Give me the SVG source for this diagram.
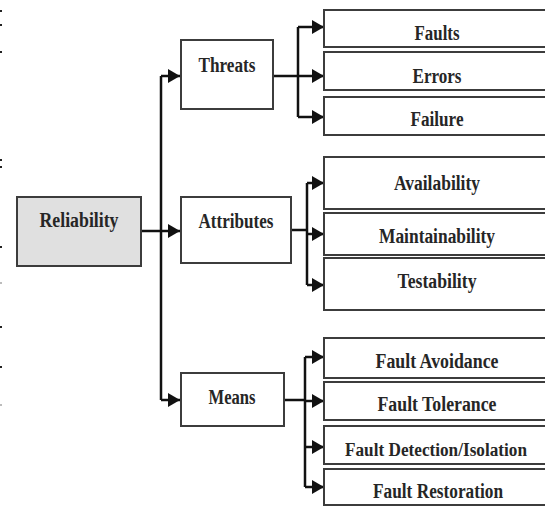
<svg xmlns="http://www.w3.org/2000/svg" width="545" height="507" viewBox="0 0 545 507">
  <style>
    .box { fill: #ffffff; stroke: #3c3c3c; stroke-width: 2; }
    .root { fill: #e0e0e0; stroke: #3c3c3c; stroke-width: 2; }
    .lbl { font-family: "Liberation Serif", "Times New Roman", serif; font-weight: bold; font-size: 20px; fill: #262626; text-anchor: middle; }
    .small { font-size: 18px; }
    .wire { fill: none; stroke: #111111; stroke-width: 2.5; }
    .tick { fill: #222222; }
  </style>
  <defs>
    <marker id="arrow" viewBox="0 0 12 14" refX="12" refY="7" markerWidth="12" markerHeight="14" markerUnits="userSpaceOnUse" orient="auto">
      <path d="M0,0 L12,7 L0,14 Z" fill="#111111"/>
    </marker>
  </defs>

  <rect width="545" height="507" fill="#ffffff"/>

  <!-- small marks along the left edge -->
  <g id="edge-marks">
    <rect class="tick" x="0" y="10" width="2" height="2"/>
    <rect class="tick" x="0" y="24" width="2" height="2"/>
    <rect class="tick" x="0" y="51" width="2" height="2"/>
    <rect class="tick" x="0" y="159" width="2" height="2"/>
    <rect class="tick" x="0" y="166" width="2" height="2"/>
    <rect class="tick" x="0" y="246" width="2" height="2"/>
    <rect class="tick" x="0" y="282" width="2" height="2" opacity="0.3"/>
    <rect class="tick" x="0" y="326" width="2" height="2"/>
    <rect class="tick" x="0" y="366" width="2" height="2"/>
    <rect class="tick" x="0" y="404" width="2" height="2" opacity="0.3"/>
  </g>

  <!-- connectors -->
  <g id="connectors">
    <!-- root trunk -->
    <path class="wire" d="M141,231 H161"/>
    <path class="wire" d="M161,76 V400"/>
    <path class="wire" d="M161,76 H180" marker-end="url(#arrow)"/>
    <path class="wire" d="M161,231 H180" marker-end="url(#arrow)"/>
    <path class="wire" d="M161,400 H180" marker-end="url(#arrow)"/>

    <!-- threats branch -->
    <path class="wire" d="M273,76 H298 M298,27 V117"/>
    <path class="wire" d="M298,27 H324" marker-end="url(#arrow)"/>
    <path class="wire" d="M298,76 H324" marker-end="url(#arrow)"/>
    <path class="wire" d="M298,117 H324" marker-end="url(#arrow)"/>

    <!-- attributes branch -->
    <path class="wire" d="M291,230 H307 M307,183 V285"/>
    <path class="wire" d="M307,183 H324" marker-end="url(#arrow)"/>
    <path class="wire" d="M307,234 H324" marker-end="url(#arrow)"/>
    <path class="wire" d="M307,285 H324" marker-end="url(#arrow)"/>

    <!-- means branch -->
    <path class="wire" d="M284,400 H305 M305,357 V487"/>
    <path class="wire" d="M305,357 H324" marker-end="url(#arrow)"/>
    <path class="wire" d="M305,401 H324" marker-end="url(#arrow)"/>
    <path class="wire" d="M305,447 H324" marker-end="url(#arrow)"/>
    <path class="wire" d="M305,487 H324" marker-end="url(#arrow)"/>
  </g>

  <!-- root -->
  <g id="reliability">
    <rect class="root" x="17" y="197" width="124" height="69"/>
    <text class="lbl" x="79" y="227" textLength="79" lengthAdjust="spacingAndGlyphs">Reliability</text>
  </g>

  <!-- second level -->
  <g id="threats">
    <rect class="box" x="181" y="40" width="92" height="69"/>
    <text class="lbl" x="227" y="72" textLength="57" lengthAdjust="spacingAndGlyphs">Threats</text>
  </g>
  <g id="attributes">
    <rect class="box" x="181" y="197" width="110" height="66"/>
    <text class="lbl" x="236" y="228" textLength="75" lengthAdjust="spacingAndGlyphs">Attributes</text>
  </g>
  <g id="means">
    <rect class="box" x="181" y="373" width="103" height="53"/>
    <text class="lbl" x="232" y="404" textLength="47" lengthAdjust="spacingAndGlyphs">Means</text>
  </g>

  <!-- threats leaves -->
  <g id="faults">
    <rect class="box" x="324" y="10" width="240" height="37"/>
    <text class="lbl" x="437" y="40" textLength="45" lengthAdjust="spacingAndGlyphs">Faults</text>
  </g>
  <g id="errors">
    <rect class="box" x="324" y="52" width="240" height="38"/>
    <text class="lbl" x="437" y="83" textLength="49" lengthAdjust="spacingAndGlyphs">Errors</text>
  </g>
  <g id="failure">
    <rect class="box" x="324" y="97" width="240" height="38"/>
    <text class="lbl" x="437" y="126" textLength="53" lengthAdjust="spacingAndGlyphs">Failure</text>
  </g>

  <!-- attributes leaves -->
  <g id="availability">
    <rect class="box" x="324" y="157" width="240" height="52"/>
    <text class="lbl" x="437" y="190" textLength="86" lengthAdjust="spacingAndGlyphs">Availability</text>
  </g>
  <g id="maintainability">
    <rect class="box" x="324" y="213" width="240" height="42"/>
    <text class="lbl" x="437" y="243" textLength="116" lengthAdjust="spacingAndGlyphs">Maintainability</text>
  </g>
  <g id="testability">
    <rect class="box" x="324" y="258" width="240" height="52"/>
    <text class="lbl" x="437" y="288" textLength="79" lengthAdjust="spacingAndGlyphs">Testability</text>
  </g>

  <!-- means leaves -->
  <g id="fault-avoidance">
    <rect class="box" x="324" y="338" width="240" height="40"/>
    <text class="lbl" x="437" y="368" textLength="123" lengthAdjust="spacingAndGlyphs">Fault Avoidance</text>
  </g>
  <g id="fault-tolerance">
    <rect class="box" x="324" y="382" width="240" height="38"/>
    <text class="lbl" x="437" y="411" textLength="119" lengthAdjust="spacingAndGlyphs">Fault Tolerance</text>
  </g>
  <g id="fault-detection">
    <rect class="box" x="324" y="426" width="240" height="38"/>
    <text class="lbl small" x="436" y="456" textLength="182" lengthAdjust="spacingAndGlyphs">Fault Detection/Isolation</text>
  </g>
  <g id="fault-restoration">
    <rect class="box" x="324" y="469" width="240" height="36"/>
    <text class="lbl" x="438" y="498" textLength="130" lengthAdjust="spacingAndGlyphs">Fault Restoration</text>
  </g>
</svg>
